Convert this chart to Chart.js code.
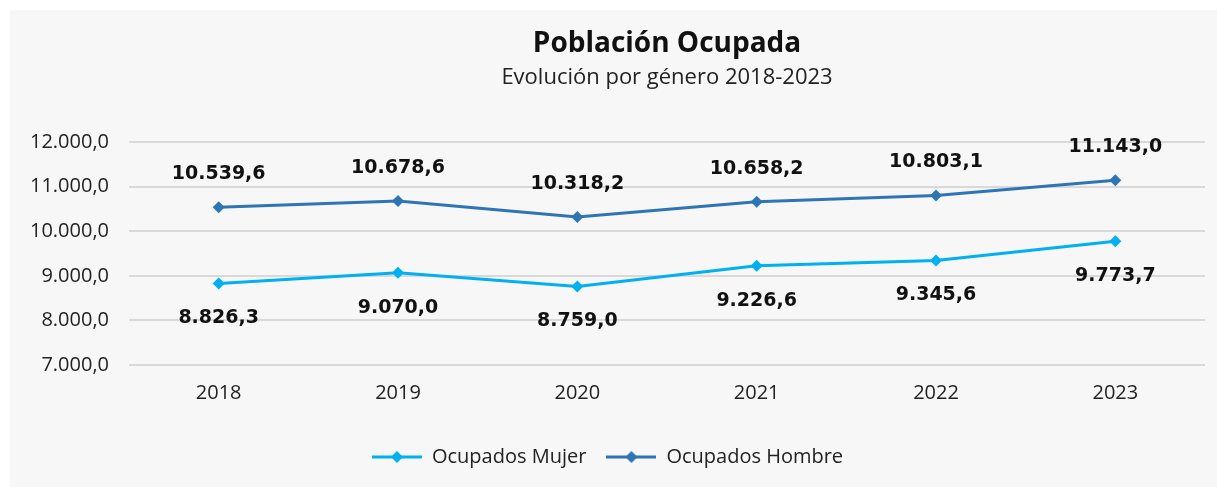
<!DOCTYPE html>
<html>
<head>
<meta charset="utf-8">
<script src="https://cdn.jsdelivr.net/npm/chart.js@4/dist/chart.umd.min.js"></script>
<style>
  html, body { margin: 0; padding: 0; background: #ffffff; }
  #panel { position: absolute; left: 10px; top: 10px; width: 1207px; height: 477px; background: #f7f7f7; }
</style>
</head>
<body>
<div id="panel"><canvas id="myChart" width="1207" height="477"></canvas></div>
<script>
// datos del gráfico
const anios = ["2018", "2019", "2020", "2021", "2022", "2023"];
const ocupadosMujer = [8826.3, 9070.0, 8759.0, 9226.6, 9345.6, 9773.7];
const ocupadosHombre = [10539.6, 10678.6, 10318.2, 10658.2, 10803.1, 11143.0];
const ticksEje = [7000, 8000, 9000, 10000, 11000, 12000];

const colorMujer = "#00b0f0";
const colorHombre = "#2e75b6";

// formato 12.000,0
function formato(v) {
    const partes = v.toFixed(1).split(".");
    const entero = partes[0].replace(/\B(?=(\d{3})+(?!\d))/g, ".");
    return entero + "," + partes[1];
}

// marcador de leyenda: línea con rombo
function marcador(color) {
    const c = document.createElement("canvas");
    c.width = 50;
    c.height = 16;
    const ctx = c.getContext("2d");
    ctx.strokeStyle = color;
    ctx.lineWidth = 3;
    ctx.beginPath();
    ctx.moveTo(0, 8);
    ctx.lineTo(50, 8);
    ctx.stroke();
    ctx.fillStyle = color;
    ctx.beginPath();
    ctx.moveTo(25, 2);
    ctx.lineTo(31, 8);
    ctx.lineTo(25, 14);
    ctx.lineTo(19, 8);
    ctx.closePath();
    ctx.fill();
    return c;
}

// etiquetas de datos
const etiquetas = {
    id: "etiquetas",
    afterDatasetsDraw(chart) {
        const ctx = chart.ctx;
        ctx.save();
        ctx.font = "bold 19px 'DejaVu Sans'";
        ctx.fillStyle = "#111111";
        ctx.textAlign = "center";
        ctx.textBaseline = "middle";
        chart.data.datasets.forEach(function (ds, i) {
            const meta = chart.getDatasetMeta(i);
            const desp = ds.label === "Ocupados Hombre" ? -33 : 35;
            meta.data.forEach(function (p, j) {
                ctx.fillText(formato(ds.data[j]), p.x, p.y + desp);
            });
        });
        ctx.restore();
    }
};

const data = {
    labels: anios,
    datasets: [
        {
            label: "Ocupados Mujer",
            data: ocupadosMujer,
            borderColor: colorMujer,
            backgroundColor: colorMujer,
            borderWidth: 3,
            pointStyle: "rectRot",
            pointRadius: 6,
            pointBackgroundColor: colorMujer,
            pointBorderWidth: 0,
            tension: 0
        },
        {
            label: "Ocupados Hombre",
            data: ocupadosHombre,
            borderColor: colorHombre,
            backgroundColor: colorHombre,
            borderWidth: 3,
            pointStyle: "rectRot",
            pointRadius: 6,
            pointBackgroundColor: colorHombre,
            pointBorderWidth: 0,
            tension: 0
        }
    ]
};

const config = {
    type: "line",
    data: data,
    plugins: [etiquetas],
    options: {
        responsive: false,
        animation: false,
        layout: { padding: { left: 0, right: 12, top: 0, bottom: 10 } },
        plugins: {
            title: {
                display: true,
                fullSize: false,
                text: "Población Ocupada",
                color: "#111111",
                font: { family: "'Open Sans'", size: 28, weight: "bold" },
                padding: { top: 17, bottom: 0 }
            },
            subtitle: {
                display: true,
                fullSize: false,
                text: "Evolución por género 2018-2023",
                color: "#222222",
                font: { family: "'Open Sans'", size: 22 },
                padding: { top: 4, bottom: 51 }
            },
            legend: {
                position: "bottom",
                labels: {
                    usePointStyle: true,
                    pointStyleWidth: 50,
                    padding: 20,
                    color: "#222222",
                    font: { family: "'Open Sans'", size: 20 },
                    generateLabels: function (chart) {
                        return chart.data.datasets.map(function (ds, i) {
                            return {
                                text: ds.label,
                                pointStyle: marcador(ds.borderColor),
                                fillStyle: ds.borderColor,
                                strokeStyle: ds.borderColor,
                                lineWidth: 0,
                                datasetIndex: i,
                                fontColor: "#222222"
                            };
                        });
                    }
                }
            },
            tooltip: { enabled: false }
        },
        scales: {
            x: {
                offset: true,
                grid: { display: false, drawTicks: false },
                border: { display: false },
                ticks: {
                    color: "#222222",
                    font: { family: "'Open Sans'", size: 20 },
                    padding: 16
                },
                afterFit: function (scale) { scale.height = 62; }
            },
            y: {
                min: 7000,
                max: 12000,
                afterBuildTicks: function (scale) {
                    scale.ticks = ticksEje.map(function (v) { return { value: v }; });
                },
                grid: { color: "#d9d9d9", lineWidth: 2, drawTicks: false },
                border: { display: false },
                ticks: {
                    color: "#222222",
                    font: { family: "'Open Sans'", size: 20 },
                    padding: 20,
                    callback: function (v) { return formato(v); }
                },
                afterFit: function (scale) { scale.width = 119; }
            }
        }
    }
};

const myChart = new Chart(document.getElementById("myChart"), config);
</script>
</body>
</html>
